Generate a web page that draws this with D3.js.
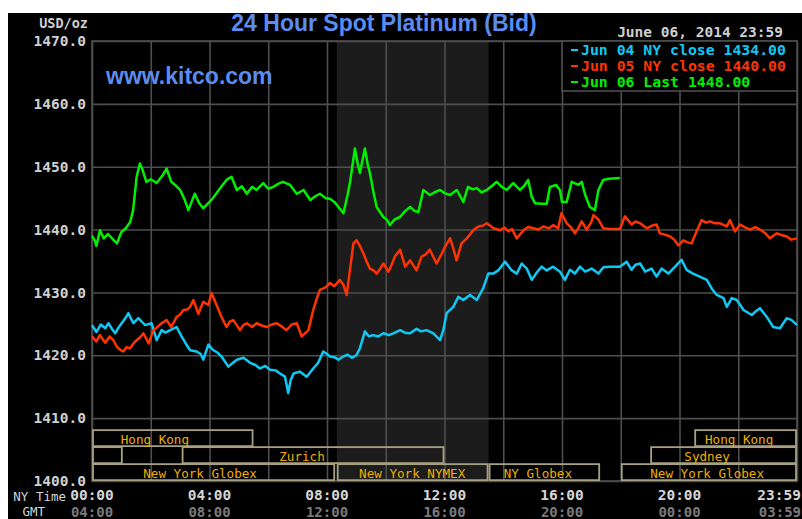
<!DOCTYPE html>
<html>
<head>
<meta charset="utf-8">
<script src="https://cdn.jsdelivr.net/npm/d3@7"></script>
<style>
  body { margin: 0; background: #fff; }
  svg { display: block; }
</style>
</head>
<body>
<div id="chart-area"></div>
<script>
// price series, [NY hour, USD/oz]
const jun04 = [[0,1424.8],[0.15,1423.7],[0.3,1424.9],[0.45,1424.3],[0.56,1425.1],[0.68,1424.2],[0.79,1423.5],[0.9,1424.4],[1.01,1425.1],[1.12,1425.8],[1.24,1426.7],[1.32,1425.9],[1.41,1425.1],[1.58,1425.9],[1.7,1425.3],[1.81,1424.8],[2.03,1425.1],[2.2,1422.4],[2.37,1424.0],[2.5,1423.6],[2.66,1424.0],[2.88,1424.5],[3.05,1423.0],[3.2,1421.8],[3.34,1420.8],[3.56,1420.6],[3.7,1420.2],[3.79,1419.3],[3.96,1421.7],[4.13,1420.8],[4.28,1420.4],[4.41,1419.8],[4.64,1418.2],[4.8,1418.8],[4.93,1419.3],[5.16,1419.6],[5.38,1418.8],[5.55,1418.5],[5.72,1417.9],[5.9,1418.3],[6.06,1417.7],[6.25,1417.6],[6.4,1417.1],[6.57,1416.6],[6.68,1414.0],[6.76,1416.0],[6.86,1417.1],[7.08,1417.4],[7.31,1416.6],[7.53,1417.9],[7.7,1418.8],[7.87,1420.6],[8.0,1420.2],[8.1,1419.8],[8.25,1419.7],[8.39,1419.3],[8.55,1419.8],[8.7,1420.1],[8.85,1419.6],[9.0,1420.0],[9.12,1421.1],[9.29,1423.8],[9.43,1423.0],[9.57,1423.2],[9.75,1423.0],[9.92,1423.5],[10.1,1423.2],[10.26,1423.5],[10.49,1424.0],[10.65,1423.6],[10.83,1423.5],[11.05,1424.2],[11.2,1423.8],[11.39,1424.0],[11.62,1423.5],[11.85,1422.4],[11.96,1424.0],[12.07,1426.7],[12.3,1427.7],[12.47,1429.3],[12.64,1428.8],[12.87,1429.6],[13.1,1428.8],[13.32,1430.7],[13.49,1433.0],[13.66,1433.0],[13.83,1433.5],[14.06,1434.9],[14.29,1433.5],[14.46,1433.0],[14.63,1434.6],[14.8,1433.8],[14.97,1432.0],[15.15,1433.2],[15.31,1434.1],[15.48,1433.5],[15.7,1434.1],[15.93,1433.3],[16.1,1432.0],[16.27,1433.6],[16.44,1433.0],[16.61,1434.1],[16.79,1433.3],[17.01,1433.8],[17.24,1433.0],[17.41,1434.0],[17.63,1434.1],[17.97,1434.1],[18.2,1434.9],[18.37,1433.6],[18.5,1434.4],[18.66,1434.6],[18.83,1433.3],[19.05,1433.8],[19.22,1432.5],[19.39,1433.8],[19.62,1433.0],[19.85,1434.1],[20.07,1435.2],[20.24,1433.6],[20.46,1433.0],[20.69,1432.5],[20.93,1432.0],[21.1,1430.6],[21.27,1429.6],[21.5,1429.1],[21.61,1427.7],[21.78,1429.1],[21.95,1428.8],[22.18,1427.2],[22.46,1426.4],[22.6,1427.0],[22.74,1427.5],[22.97,1426.1],[23.19,1424.5],[23.42,1424.3],[23.65,1425.9],[23.82,1425.6],[24.0,1424.8]];

const jun05 = [[0,1423.0],[0.15,1422.2],[0.27,1423.2],[0.45,1422.0],[0.6,1423.0],[0.73,1422.4],[0.84,1421.4],[0.95,1420.9],[1.07,1420.6],[1.18,1421.3],[1.29,1421.1],[1.4,1421.8],[1.52,1422.4],[1.65,1422.9],[1.75,1423.5],[1.93,1421.9],[2.09,1424.0],[2.2,1424.4],[2.37,1425.1],[2.54,1425.6],[2.7,1424.5],[2.88,1426.1],[3.0,1426.5],[3.11,1427.2],[3.25,1427.3],[3.34,1427.7],[3.45,1428.8],[3.62,1426.6],[3.79,1428.5],[3.96,1428.0],[4.07,1429.9],[4.24,1428.0],[4.41,1426.1],[4.58,1424.5],[4.7,1425.4],[4.81,1425.6],[5.04,1424.0],[5.15,1424.8],[5.27,1425.1],[5.45,1424.5],[5.6,1425.1],[5.8,1424.7],[5.96,1424.5],[6.12,1424.9],[6.29,1425.1],[6.45,1424.6],[6.62,1424.0],[6.8,1424.9],[6.97,1425.1],[7.14,1423.0],[7.37,1424.0],[7.53,1427.2],[7.65,1429.0],[7.76,1430.4],[7.95,1430.8],[8.1,1431.5],[8.25,1431.0],[8.44,1432.0],[8.56,1431.2],[8.67,1429.6],[8.78,1433.5],[8.9,1437.8],[9.0,1438.3],[9.12,1437.4],[9.24,1436.2],[9.35,1434.9],[9.46,1433.8],[9.58,1433.5],[9.69,1433.0],[9.8,1433.7],[9.92,1434.6],[10.09,1433.3],[10.2,1434.4],[10.31,1435.7],[10.49,1436.8],[10.66,1434.1],[10.83,1435.1],[11.05,1433.5],[11.22,1435.7],[11.35,1436.0],[11.5,1436.8],[11.73,1434.6],[11.9,1436.1],[12.02,1437.3],[12.19,1438.6],[12.3,1437.0],[12.41,1435.1],[12.58,1437.8],[12.76,1438.6],[12.98,1439.9],[13.15,1440.5],[13.3,1440.6],[13.44,1441.0],[13.67,1440.2],[13.89,1439.9],[14.05,1440.3],[14.17,1439.7],[14.3,1440.1],[14.46,1438.6],[14.69,1439.9],[14.85,1440.4],[15.02,1440.2],[15.2,1440.0],[15.36,1440.5],[15.55,1440.2],[15.7,1440.7],[15.87,1440.2],[15.98,1442.6],[16.16,1441.0],[16.3,1440.4],[16.44,1439.4],[16.55,1440.2],[16.67,1441.3],[16.84,1440.0],[17.0,1441.2],[17.07,1442.3],[17.24,1441.6],[17.41,1440.2],[17.63,1440.1],[17.97,1440.1],[18.14,1442.1],[18.25,1441.5],[18.37,1440.8],[18.5,1441.3],[18.66,1441.0],[18.89,1440.2],[19.05,1440.6],[19.22,1440.8],[19.33,1439.4],[19.5,1439.2],[19.68,1438.9],[19.82,1438.4],[19.96,1437.5],[20.13,1438.3],[20.25,1438.0],[20.41,1437.8],[20.58,1439.7],[20.75,1441.5],[20.9,1441.1],[21.04,1441.3],[21.2,1441.0],[21.38,1441.0],[21.61,1440.5],[21.72,1441.5],[21.89,1439.7],[22.06,1440.8],[22.25,1440.3],[22.4,1440.0],[22.58,1440.4],[22.74,1440.0],[22.9,1439.5],[23.08,1438.6],[23.31,1439.4],[23.5,1439.1],[23.65,1438.9],[23.8,1438.4],[24.0,1438.6]];

const jun06 = [[0,1439.0],[0.1,1438.2],[0.15,1437.4],[0.27,1439.9],[0.4,1438.6],[0.55,1439.3],[0.7,1438.5],[0.85,1437.8],[1.0,1439.6],[1.15,1440.2],[1.3,1441.2],[1.4,1443.1],[1.52,1448.4],[1.63,1450.5],[1.72,1449.5],[1.85,1447.6],[2.0,1448.0],[2.2,1447.4],[2.4,1448.6],[2.54,1449.7],[2.7,1447.6],[2.85,1447.0],[3.0,1446.3],[3.15,1444.8],[3.28,1443.1],[3.5,1445.7],[3.65,1444.2],[3.79,1443.4],[3.96,1444.2],[4.1,1444.9],[4.24,1445.8],[4.4,1446.8],[4.58,1447.9],[4.75,1448.4],[4.93,1446.3],[5.1,1446.9],[5.27,1445.7],[5.45,1446.8],[5.6,1446.3],[5.83,1447.4],[6.0,1446.5],[6.17,1446.8],[6.35,1447.3],[6.5,1447.6],[6.74,1447.1],[6.97,1445.7],[7.2,1446.3],[7.43,1444.7],[7.6,1445.3],[7.76,1445.7],[7.95,1445.0],[8.1,1444.9],[8.25,1444.4],[8.39,1443.6],[8.56,1442.6],[8.7,1445.5],[8.78,1447.4],[8.95,1452.9],[9.05,1450.4],[9.12,1449.0],[9.29,1452.9],[9.38,1450.5],[9.46,1449.0],[9.58,1446.0],[9.69,1443.6],[9.8,1442.8],[9.92,1442.0],[10.05,1441.5],[10.14,1440.7],[10.3,1441.6],[10.49,1442.0],[10.65,1442.9],[10.83,1443.6],[10.97,1443.0],[11.11,1442.8],[11.28,1446.3],[11.5,1445.5],[11.65,1445.9],[11.85,1446.3],[12.0,1445.8],[12.19,1445.5],[12.42,1446.3],[12.64,1444.4],[12.8,1446.8],[12.95,1446.4],[13.1,1446.6],[13.27,1445.9],[13.44,1446.3],[13.6,1446.9],[13.78,1447.6],[13.95,1446.8],[14.12,1446.3],[14.34,1447.4],[14.57,1446.3],[14.72,1447.0],[14.85,1447.9],[14.97,1445.2],[15.08,1444.2],[15.3,1444.1],[15.48,1444.1],[15.59,1446.8],[15.8,1447.1],[15.93,1446.3],[16.0,1444.4],[16.16,1444.4],[16.33,1447.6],[16.56,1447.1],[16.67,1447.6],[16.79,1445.5],[16.95,1443.6],[17.12,1443.1],[17.24,1446.3],[17.4,1447.9],[17.6,1448.1],[17.97,1448.2]];

const seriesColors = ["#10c8f4", "#ff3300", "#00f000"];
const legendLabels = ["Jun 04 NY close 1434.00", "Jun 05 NY close 1440.00", "Jun 06 Last 1448.00"];
const yTicks = [1400, 1410, 1420, 1430, 1440, 1450, 1460, 1470];
const labelHours = [0, 4, 8, 12, 16, 20, 24];
const nyTimeLabels = ["00:00", "04:00", "08:00", "12:00", "16:00", "20:00", "23:59"];
const gmtLabels = ["04:00", "08:00", "12:00", "16:00", "20:00", "00:00", "03:59"];
const nymexSession = [8.33, 13.5];

// trading sessions: row, start hour, end hour, name, label hour
const markets = [
  [0, 0, 5.5, "Hong Kong", 2.14],
  [0, 20.5, 24, "Hong Kong", 22.03],
  [1, 0, 1.05, "", 0],
  [1, 3.05, 12, "Zurich", 7.15],
  [1, 19, 24, "Sydney", 20.94],
  [2, 0, 8.28, "New York Globex", 3.68],
  [2, 8.33, 13.5, "New York NYMEX", 10.9],
  [2, 13.5, 17.3, "NY Globex", 15.18],
  [2, 18, 24, "New York Globex", 20.94]
];

const W = 802, H = 519;
const margin = { top: 41, right: 5, bottom: 38, left: 92 };
const width = W - margin.left - margin.right;
const height = H - margin.top - margin.bottom;
const mono = "'DejaVu Sans Mono', monospace";
const gridColor = "#4e4e4e";

const x = d3.scaleLinear().domain([0, 24]).range([0, width]);
const y = d3.scaleLinear().domain([1400, 1470]).range([height, 0]);

const svg = d3.select("#chart-area")
  .append("svg")
    .attr("width", W)
    .attr("height", H);

svg.append("rect")
  .attr("x", 8).attr("y", 13)
  .attr("width", W - 8).attr("height", H - 13)
  .attr("fill", "#000");

const chart = svg.append("g")
  .attr("transform", "translate(" + margin.left + "," + margin.top + ")");

// NYMEX session shading
chart.append("rect")
  .attr("x", x(nymexSession[0]))
  .attr("y", 0)
  .attr("width", x(nymexSession[1]) - x(nymexSession[0]))
  .attr("height", height)
  .attr("fill", "#1c1c1c");

// grid
const gridX = chart.append("g")
  .attr("transform", "translate(0," + height + ")")
  .call(d3.axisBottom(x).tickValues(d3.range(0, 25, 2)).tickSize(-height).tickFormat(""));
const gridY = chart.append("g")
  .call(d3.axisLeft(y).tickValues(yTicks).tickSize(-width).tickFormat(""));
[gridX, gridY].forEach(g => {
  g.select(".domain").remove();
  g.selectAll("line").attr("stroke", gridColor).attr("stroke-width", 1.6);
});

chart.append("rect")
  .attr("width", width).attr("height", height)
  .attr("fill", "none")
  .attr("stroke", gridColor)
  .attr("stroke-width", 1.6);

// price lines
const line = d3.line().x(d => x(d[0])).y(d => y(d[1]));
[jun04, jun05, jun06].forEach((s, i) => {
  chart.append("path")
    .datum(s)
    .attr("d", line)
    .attr("fill", "none")
    .attr("stroke", seriesColors[i])
    .attr("stroke-width", 2.5)
    .attr("stroke-linejoin", "round");
});

// session boxes
const rowTop = [y(1410) + 12, y(1410) + 29, y(1410) + 46];
const rowH = 16;
markets.forEach(m => {
  chart.append("rect")
    .attr("x", x(m[1]) + 1)
    .attr("y", rowTop[m[0]])
    .attr("width", x(m[2]) - x(m[1]) - 2)
    .attr("height", rowH)
    .attr("fill", "none")
    .attr("stroke", "#a6a182")
    .attr("stroke-width", 1.8);
  if (m[3]) {
    chart.append("text")
      .attr("x", x(m[4]))
      .attr("y", rowTop[m[0]] + rowH / 2 + 1)
      .attr("text-anchor", "middle")
      .attr("dominant-baseline", "central")
      .attr("font-family", mono)
      .attr("font-size", "12.6px")
      .attr("fill", "#eeb000")
      .text(m[3]);
  }
});

// y axis labels
const yAxis = chart.append("g")
  .call(d3.axisLeft(y).tickValues(yTicks).tickSize(0).tickPadding(6).tickFormat(d3.format(".1f")));
yAxis.select(".domain").remove();
yAxis.selectAll("text")
  .attr("font-family", mono)
  .attr("font-weight", "bold")
  .attr("font-size", "14.5px")
  .attr("fill", "#d0d0d0");

// time labels
labelHours.forEach((h, i) => {
  const last = i === labelHours.length - 1;
  const tx = last ? W - 1 : margin.left + x(h);
  svg.append("text")
    .attr("x", tx).attr("y", 500)
    .attr("text-anchor", last ? "end" : "middle")
    .attr("font-family", mono).attr("font-weight", "bold").attr("font-size", "14.5px")
    .attr("fill", "#d6d6d6")
    .text(nyTimeLabels[i]);
  svg.append("text")
    .attr("x", tx).attr("y", 517)
    .attr("text-anchor", last ? "end" : "middle")
    .attr("font-family", mono).attr("font-weight", "bold").attr("font-size", "14px")
    .attr("fill", "#7a7a7a")
    .text(gmtLabels[i]);
});

svg.append("text")
  .attr("x", 66).attr("y", 501)
  .attr("text-anchor", "end")
  .attr("font-family", mono).attr("font-size", "12.5px")
  .attr("fill", "#d6d6d6")
  .text("NY Time");
svg.append("text")
  .attr("x", 45).attr("y", 516)
  .attr("text-anchor", "end")
  .attr("font-family", mono).attr("font-size", "12.5px")
  .attr("fill", "#d6d6d6")
  .text("GMT");

svg.append("text")
  .attr("x", 88).attr("y", 28)
  .attr("text-anchor", "end")
  .attr("font-family", mono).attr("font-weight", "bold").attr("font-size", "13.5px")
  .attr("fill", "#d0d0d0")
  .text("USD/oz");

svg.append("text")
  .attr("x", 783).attr("y", 37)
  .attr("text-anchor", "end")
  .attr("font-family", mono).attr("font-weight", "bold").attr("font-size", "14.5px")
  .attr("fill", "#cfcfcf")
  .text("June 06, 2014 23:59");

svg.append("text")
  .attr("x", 384).attr("y", 31)
  .attr("text-anchor", "middle")
  .attr("font-family", "'Liberation Sans', Arial, sans-serif")
  .attr("font-weight", "bold")
  .attr("font-size", "23px")
  .attr("fill", "#5b8cf2")
  .text("24 Hour Spot Platinum (Bid)");

svg.append("text")
  .attr("x", 106).attr("y", 84)
  .attr("font-family", "'Liberation Sans', Arial, sans-serif")
  .attr("font-weight", "bold")
  .attr("font-size", "23px")
  .attr("fill", "#5b8cf2")
  .text("www.kitco.com");

// legend
const legend = svg.append("g").attr("transform", "translate(562,41)");
legend.append("rect")
  .attr("width", 235).attr("height", 50)
  .attr("fill", "#000")
  .attr("stroke", gridColor)
  .attr("stroke-width", 1.6);
legendLabels.forEach((t, i) => {
  legend.append("line")
    .attr("x1", 9).attr("x2", 16)
    .attr("y1", 9 + i * 16).attr("y2", 9 + i * 16)
    .attr("stroke", seriesColors[i])
    .attr("stroke-width", 2);
  legend.append("text")
    .attr("x", 19).attr("y", 14 + i * 16)
    .attr("font-family", mono).attr("font-weight", "bold").attr("font-size", "14.8px")
    .attr("fill", seriesColors[i])
    .text(t);
});
</script>
</body>
</html>
